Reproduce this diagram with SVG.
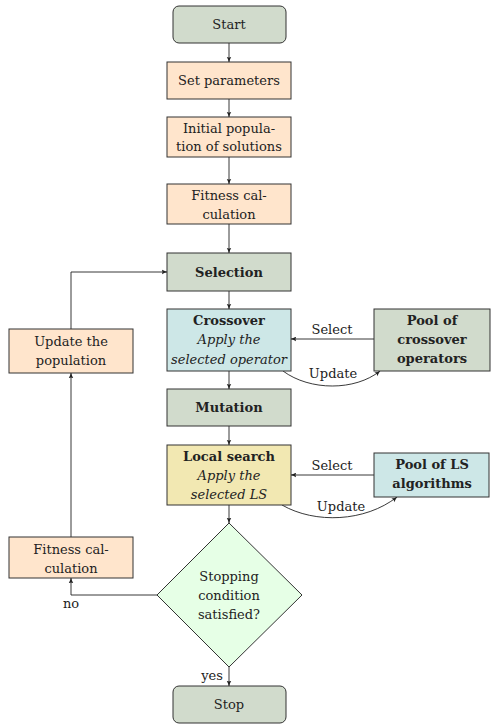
<svg xmlns="http://www.w3.org/2000/svg" width="491" height="726" viewBox="0 0 491 726">
<defs>
<marker id="ah" viewBox="0 0 10 10" refX="9" refY="5" markerWidth="6" markerHeight="6" markerUnits="userSpaceOnUse" orient="auto">
<path d="M0,1 Q5,4 10,5 Q5,6 0,9 Q3,5 0,1 Z" fill="#222"/>
</marker>
<style>
text{font-family:'DejaVu Serif',serif;font-size:13px;fill:#222;text-anchor:middle}
.b{font-weight:bold}
.i{font-style:italic}
.box{stroke:#333;stroke-width:1}
.gr{fill:#d1dbcc}
.or{fill:#ffe5cc}
.bl{fill:#cde7e7}
.ye{fill:#f2e8b2}
.dg{fill:#e6ffe6}
.e{fill:none;stroke:#222;stroke-width:0.9;marker-end:url(#ah)}
</style>
</defs>
<g id="edges">
<path class="e" d="M229,43 V62"/>
<path class="e" d="M229,99 V117"/>
<path class="e" d="M229,157 V184"/>
<path class="e" d="M229,224 V253"/>
<path class="e" d="M229,291 V309"/>
<path class="e" d="M229,371 V389"/>
<path class="e" d="M229,426 V445"/>
<path class="e" d="M229,505 V523"/>
<path class="e" d="M229,667 V686"/>
<path class="e" d="M374,339 H291"/>
<path class="e" d="M283,371 C310,391 355,391 380,371"/>
<path class="e" d="M374,475 H291"/>
<path class="e" d="M282,505 C315,524 365,522 397,497"/>
<path class="e" d="M157,595 H71 V578"/>
<path class="e" d="M71,537 V373"/>
<path class="e" d="M71,329 V272 H167"/>
<text x="332" y="334">Select</text>
<text x="333" y="378">Update</text>
<text x="332" y="470">Select</text>
<text x="341" y="511">Update</text>
<text x="71" y="608">no</text>
<text x="212" y="680">yes</text>
</g>
<g id="start"><rect class="box gr" x="173" y="6" width="113" height="37" rx="6"/><text x="229" y="29">Start</text></g>
<g id="setparams"><rect class="box or" x="167" y="62" width="124" height="37"/><text x="229" y="85">Set parameters</text></g>
<g id="initpop"><rect class="box or" x="167" y="117" width="124" height="40"/><text x="229" y="133">Initial popula-</text><text x="229" y="151">tion of solutions</text></g>
<g id="fitness1"><rect class="box or" x="167" y="184" width="124" height="40"/><text x="229" y="200">Fitness cal-</text><text x="229" y="219">culation</text></g>
<g id="selection"><rect class="box gr" x="167" y="253" width="124" height="38"/><text class="b" x="229" y="277">Selection</text></g>
<g id="crossover"><rect class="box bl" x="167" y="309" width="124" height="62"/><text class="b" x="229" y="325">Crossover</text><text class="i" x="229" y="344">Apply the</text><text class="i" x="229" y="364">selected operator</text></g>
<g id="poolcx"><rect class="box gr" x="374" y="309" width="116" height="62"/><text class="b" x="432" y="325">Pool of</text><text class="b" x="432" y="344">crossover</text><text class="b" x="432" y="363">operators</text></g>
<g id="mutation"><rect class="box gr" x="167" y="389" width="124" height="37"/><text class="b" x="229" y="412">Mutation</text></g>
<g id="localsearch"><rect class="box ye" x="167" y="445" width="124" height="60"/><text class="b" x="229" y="461">Local search</text><text class="i" x="229" y="480">Apply the</text><text class="i" x="229" y="499">selected LS</text></g>
<g id="poolls"><rect class="box bl" x="374" y="453" width="115" height="44"/><text class="b" x="432" y="469">Pool of LS</text><text class="b" x="432" y="488">algorithms</text></g>
<g id="updatepop"><rect class="box or" x="9" y="329" width="124" height="44"/><text x="71" y="346">Update the</text><text x="71" y="365">population</text></g>
<g id="fitness2"><rect class="box or" x="9" y="537" width="124" height="41"/><text x="71" y="554">Fitness cal-</text><text x="71" y="573">culation</text></g>
<g id="stopcond"><path class="box dg" d="M229,523 L302,595 L229,667 L157,595 Z"/><text x="229" y="581">Stopping</text><text x="229" y="600">condition</text><text x="229" y="619">satisfied?</text></g>
<g id="stop"><rect class="box gr" x="173" y="686" width="113" height="37" rx="6"/><text x="229" y="709">Stop</text></g>
</svg>
